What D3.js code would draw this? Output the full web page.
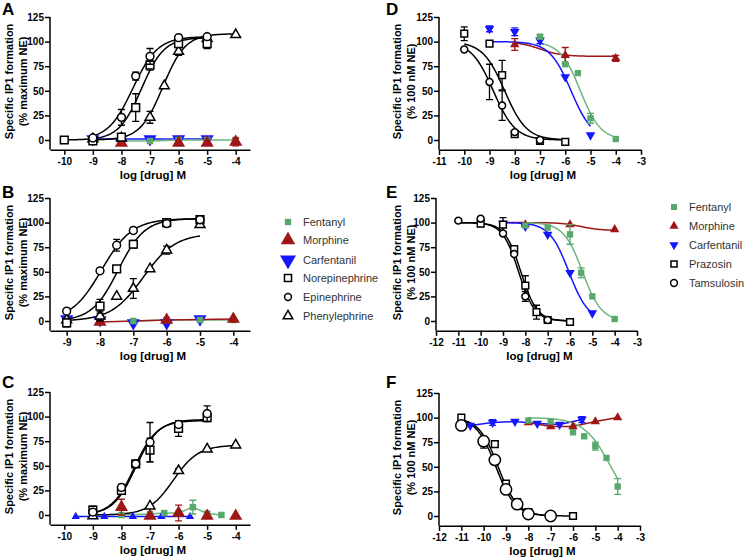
<!DOCTYPE html>
<html><head><meta charset="utf-8">
<script src="https://cdn.jsdelivr.net/npm/d3@7"></script>
<style>body{margin:0;background:#fff}svg{display:block}text{font-family:Arial,"Liberation Sans",sans-serif}</style>
</head><body>
<svg id="c" width="744" height="560"></svg>
<script>
// ---------- DATA ----------
const agonistNames = ["Fentanyl","Morphine","Carfentanil","Norepinephrine","Epinephrine","Phenylephrine"];
const antagonistNames = ["Fentanyl","Morphine","Carfentanil","Prazosin","Tamsulosin"];
const yTicks = [0,25,50,75,100,125];
const xTicksAC = [-10,-9,-8,-7,-6,-5,-4];
const xTicksB = [-9,-8,-7,-6,-5,-4];
const xTicksD = [-11,-10,-9,-8,-7,-6,-5,-4,-3];
const xTicksEF = [-12,-11,-10,-9,-8,-7,-6,-5,-4,-3];
const yTitleLeft = "(% maximum NE)";
const yTitleRight = "(% 100 nM NE)";

// points: [log dose, response, error]
const A_ne = [[-10,0,0],[-9,-1,0],[-8,3,2],[-7.5,33,14],[-7,76,5],[-6,98,3],[-5,98,5]];
const A_epi = [[-9,2,0],[-8,23,8],[-7.5,65,4],[-7,85,8],[-6,104,1],[-5,105,2]];
const A_phe = [[-9,1,0],[-8,2,0],[-7,23,6],[-6.5,55,0],[-6,90,4],[-5,103,2],[-4,107,0]];
const A_carf = [[-9,1,0],[-7,1,0],[-6,1,0],[-5,1,0]];
const A_fent = [[-8,-1,0],[-7,-1,0],[-6,0,0],[-5,0,0],[-4,0,0]];
const A_morph = [[-8,-3,0],[-6,-3,0],[-5,-3,0],[-4,-2,4]];

const B_epi = [[-9,10,0],[-8,51,2],[-7.5,77,6],[-7,92,3],[-6,99,1],[-5,103,1]];
const B_ne = [[-9,-2,4],[-8,15,7],[-7.5,53,0],[-7,78,4],[-6,100,2],[-5,103,2]];
const B_phe = [[-9,1,0],[-8,5,5],[-7.5,25,0],[-7,33,10],[-6.5,53,0],[-6,72,4],[-5,98,0]];
const B_carf = [[-9,2,0],[-8,1,0],[-7,-2,0],[-6,-2,0],[-5,2,0]];
const B_morph = [[-8,-1,0],[-6,1,0],[-4,2,0]];
const B_fent = [[-7,0,0],[-6,1,0],[-5,1,0],[-4,1,0]];

const C_ne = [[-9,5,4],[-8,25,4],[-7.5,52,0],[-7,66,12],[-6,88,8],[-5,99,0]];
const C_epi = [[-9,3,0],[-8,28,3],[-7.5,52,0],[-7,74,20],[-6,92,3],[-5,103,8]];
const C_phe = [[-9,-1,0],[-7,9,0],[-6,45,2],[-5,67,0],[-4,71,0]];
const C_carf = [[-9.6,-1.5,0],[-8.6,-1.5,0],[-7.6,-1.5,0],[-6.6,-1.5,0],[-5.6,-1.5,0]];
const C_fent = [[-8,0,0],[-7,1,0],[-6.5,2,0],[-6,2,0],[-5.5,8,7],[-5,1.5,0],[-4.5,0,0]];
const C_morph = [[-8,8,8],[-7,-1,0],[-6,2,8],[-5,-1,0],[-4,-1,0]];

const D_praz = [[-10,108,7],[-9,98,0],[-8.5,66,15],[-8,6,3],[-7,-1,0],[-6,-2,0]];
const D_tams = [[-10,92,0],[-9,59,18],[-8.5,35,15],[-8,8,0],[-7,0,0]];
const D_carf = [[-9,113,3],[-8,110,4],[-7,101,3],[-6,64,0],[-5,5,0]];
const D_fent = [[-7,105,2],[-6,77,0],[-5.5,68,0],[-5,22,5],[-4,1,0]];
const D_morph = [[-8,97,6],[-6,86,8],[-4,83,3]];

const E_tams = [[-11,102,0],[-10,104,0],[-9,89,0],[-8.5,68,0],[-8,25,5],[-7,1,0]];
const E_praz = [[-10,99,3],[-9,98,7],[-8.5,73,0],[-8,36,10],[-7.5,9,7],[-7,1,2],[-6,-1,0]];
const E_carf = [[-9,99,0],[-8,96,0],[-7,88,0],[-6,49,0],[-5,8,0]];
const E_fent = [[-8,97,0],[-7,95,0],[-6,88,10],[-5.5,49,5],[-5,25,0],[-4,2,0]];
const E_morph = [[-8,98,0],[-6,98,0],[-4,93,0]];

const F_tams = [[-11,92,5],[-10,76,3],[-9.5,57,3],[-9,27,0],[-8.5,12,0],[-8,2,0],[-7,0,0]];
const F_praz = [[-11,100,0],[-10,75,6],[-9.5,73,0],[-9,33,0],[-8.5,14,0],[-8,4,0],[-7,0,0],[-6,0,0]];
const F_carf = [[-10.6,92,0],[-9.6,95,3],[-8.6,96,0],[-7.6,94,0],[-6.6,93,0],[-5.6,98,3]];
const F_morph = [[-8,95,0],[-7,91,2],[-6,91,0],[-5,96,0],[-4,100,0]];
const F_fent = [[-8,97,0],[-7,96,0],[-6,85,0],[-5.5,81,0],[-5,71,4],[-4.5,59,0],[-4,30,8]];

// fitted curves: [top, bottom, logEC50, hill, xStart, xEnd]
const A_ne_fit = [104,0,-7.3,1.1,-10,-5];
const A_epi_fit = [105,0,-7.6,1.0,-9,-5];
const A_phe_fit = [108,0,-6.55,1.1,-9,-4];
const B_epi_fit = [104,0,-7.95,0.95,-9,-5];
const B_ne_fit = [104,0,-7.45,1.1,-9,-5];
const B_phe_fit = [89,0,-6.7,0.9,-9,-5];
const C_ne_fit = [97,0,-7.5,1.1,-9,-5];
const C_epi_fit = [96,0,-7.55,1.1,-9,-5];
const C_phe_fit = [71,0,-6.18,1.0,-9,-4];
const D_praz_fit = [100,0,-8.4,-1,-10,-6];
const D_tams_fit = [100,0,-8.85,-1,-10,-6];
const D_carf_fit = [100,0,-5.77,-1.02,-9,-5];
const D_fent_fit = [100,0,-5.4,-1.08,-7,-4];
const D_morph_fit = [100,85,-7,-1,-8,-4];
const E_praz_fit = [100,0,-8.2,-1.2,-11,-6];
const E_tams_fit = [100,0,-8.3,-1.2,-11,-6];
const E_carf_fit = [100,0,-6.05,-1,-9,-5];
const E_fent_fit = [100,0,-5.44,-1.03,-8,-4];
const E_morph_fit = [100,92,-5.5,-1,-9,-4];
const F_praz_fit = [100,0,-9.35,-1,-11,-6];
const F_tams_fit = [100,0,-9.45,-1,-11,-7];
const F_fent_fit = [100,0,-4.3,-0.72,-8,-4];

// ---------- STYLE ----------
const GREEN = "#58a86c", GREENL = "#6cb680", RED = "#9e1616", BLUE = "#1515ff";
const style = {
  Fentanyl:{color:GREEN,line:GREENL,shape:"square",fill:true},
  Morphine:{color:RED,line:RED,shape:"triUp",fill:true},
  Carfentanil:{color:BLUE,line:BLUE,shape:"triDown",fill:true},
  Norepinephrine:{color:"#000",line:"#000",shape:"square",fill:false},
  Prazosin:{color:"#000",line:"#000",shape:"square",fill:false},
  Epinephrine:{color:"#000",line:"#000",shape:"circle",fill:false},
  Tamsulosin:{color:"#000",line:"#000",shape:"circle",fill:false},
  Phenylephrine:{color:"#000",line:"#000",shape:"triUp",fill:false}
};

const svg = d3.select("#c");

function symPath(shape, area){
  const t = shape==="square"?d3.symbolSquare:shape==="circle"?d3.symbolCircle:d3.symbolTriangle;
  return d3.symbol().type(t).size(area)();
}
function drawMarker(g, name, cx, cy, area, shapeOverride){
  const s = style[name];
  const shape = shapeOverride || s.shape;
  const p = g.append("path").attr("d", symPath(shape, area))
    .attr("transform", `translate(${cx},${cy})` + (shape==="triDown"?" rotate(180)":""));
  if(s.fill) p.attr("fill", s.color).attr("stroke","none");
  else p.attr("fill","#fff").attr("stroke", s.color).attr("stroke-width",1.5);
}

const panels = [
  {id:"A", lx:2, ly:15, xDomain:[-10.5,-3.5], xRange:[50,250], y0:140, ticks:xTicksAC, t2:yTitleLeft, tx:[9,23], size:"big",
   series:[
    {name:"Carfentanil", pts:A_carf, connect:true},
    {name:"Fentanyl", pts:A_fent, connect:true},
    {name:"Morphine", pts:A_morph},
    {name:"Phenylephrine", pts:A_phe, fit:A_phe_fit},
    {name:"Norepinephrine", pts:A_ne, fit:A_ne_fit},
    {name:"Epinephrine", pts:A_epi, fit:A_epi_fit}]},
  {id:"B", lx:2, ly:198, xDomain:[-9.5,-3.5], xRange:[50,250], y0:321, ticks:xTicksB, t2:yTitleLeft, tx:[9,23], size:"big",
   series:[
    {name:"Carfentanil", pts:B_carf},
    {name:"Fentanyl", pts:B_fent, connect:true},
    {name:"Morphine", pts:B_morph, connect:true},
    {name:"Phenylephrine", pts:B_phe, fit:B_phe_fit},
    {name:"Norepinephrine", pts:B_ne, fit:B_ne_fit},
    {name:"Epinephrine", pts:B_epi, fit:B_epi_fit}]},
  {id:"C", lx:2, ly:388, xDomain:[-10.5,-3.5], xRange:[50,250], y0:515, ticks:xTicksAC, t2:yTitleLeft, tx:[9,23], size:"big",
   series:[
    {name:"Carfentanil", pts:C_carf, connect:true, shape:"triUp", area:30},
    {name:"Fentanyl", pts:C_fent, connect:true},
    {name:"Morphine", pts:C_morph},
    {name:"Phenylephrine", pts:C_phe, fit:C_phe_fit},
    {name:"Norepinephrine", pts:C_ne, fit:C_ne_fit},
    {name:"Epinephrine", pts:C_epi, fit:C_epi_fit}]},
  {id:"D", lx:386, ly:15, xDomain:[-11,-3], xRange:[439,641], y0:140, ticks:xTicksD, t2:yTitleRight, tx:[397,411], size:"small",
   series:[
    {name:"Morphine", pts:D_morph, fit:D_morph_fit},
    {name:"Carfentanil", pts:D_carf, fit:D_carf_fit},
    {name:"Fentanyl", pts:D_fent, fit:D_fent_fit},
    {name:"Prazosin", pts:D_praz, fit:D_praz_fit},
    {name:"Tamsulosin", pts:D_tams, fit:D_tams_fit}]},
  {id:"E", lx:386, ly:198, xDomain:[-12,-3], xRange:[436,637], y0:321, ticks:xTicksEF, t2:yTitleRight, tx:[397,411], size:"small",
   series:[
    {name:"Morphine", pts:E_morph, fit:E_morph_fit},
    {name:"Carfentanil", pts:E_carf, fit:E_carf_fit},
    {name:"Fentanyl", pts:E_fent, fit:E_fent_fit},
    {name:"Prazosin", pts:E_praz, fit:E_praz_fit},
    {name:"Tamsulosin", pts:E_tams, fit:E_tams_fit}]},
  {id:"F", lx:386, ly:388, xDomain:[-12,-3], xRange:[439,640], y0:516, ticks:xTicksEF, t2:yTitleRight, tx:[397,411], size:"small",
   series:[
    {name:"Carfentanil", pts:F_carf, connect:true},
    {name:"Morphine", pts:F_morph, connect:true},
    {name:"Fentanyl", pts:F_fent, fit:F_fent_fit},
    {name:"Prazosin", pts:F_praz, fit:F_praz_fit},
    {name:"Tamsulosin", pts:F_tams, fit:F_tams_fit, area:100}]}
];

const areas = {
  big:{square:60, circle:48, triUpOpen:42, fsquare:42, triUp:75, triDown:75},
  small:{square:45, circle:38, triUpOpen:40, fsquare:40, triUp:38, triDown:40}
};

function logistic(f, xv){
  const [top,bottom,ec,h] = f;
  return bottom + (top-bottom)/(1+Math.pow(10,(ec-xv)*h));
}

panels.forEach(p=>{
  const x = d3.scaleLinear().domain(p.xDomain).range(p.xRange);
  const y = d3.scaleLinear().domain([0,125]).range([p.y0, p.y0-123]);
  const g = svg.append("g");
  const yBottom = y(-10);

  // axes
  const xa = g.append("g").attr("transform",`translate(0,${yBottom})`)
    .call(d3.axisBottom(x).tickValues(p.ticks).tickSize(5).tickSizeOuter(0).tickPadding(3).tickFormat(d=>String(d)));
  const ya = g.append("g").attr("transform",`translate(${p.xRange[0]},0)`)
    .call(d3.axisLeft(y).tickValues(yTicks).tickSize(5).tickSizeOuter(0).tickPadding(1).tickFormat(d=>String(d)));
  ya.select(".domain").attr("d", `M0,${yBottom}V${y(125)}`);
  [xa,ya].forEach(a=>{
    a.selectAll("path,line").attr("stroke","#000").attr("stroke-width",1.5);
    a.selectAll("text").attr("font-size",10).attr("font-weight","bold").attr("fill","#000")
      .attr("font-family","Arial, 'Liberation Sans', sans-serif");
  });

  // titles
  const yc = (y(125)+yBottom)/2 - 2;
  g.append("text").attr("transform",`translate(${p.tx[0]},${yc}) rotate(-90)`).attr("text-anchor","middle")
    .attr("dominant-baseline","central").attr("font-size",11).attr("font-weight","bold").text("Specific IP1 formation");
  g.append("text").attr("transform",`translate(${p.tx[1]},${yc}) rotate(-90)`).attr("text-anchor","middle")
    .attr("dominant-baseline","central").attr("font-size",11).attr("font-weight","bold").text(p.t2);
  g.append("text").attr("x",(p.xRange[0]+p.xRange[1])/2+3).attr("y",yBottom+29).attr("text-anchor","middle")
    .attr("font-size",11.5).attr("font-weight","bold").text("log [drug] M");
  g.append("text").attr("x",p.lx).attr("y",p.ly).attr("font-size",17).attr("font-weight","bold").text(p.id);

  const ar = areas[p.size];
  // lines / curves
  p.series.forEach(s=>{
    const st = style[s.name];
    if(s.fit){
      const xs = d3.range(0,101).map(i=>s.fit[4]+(s.fit[5]-s.fit[4])*i/100);
      g.append("path").attr("d", d3.line().x(v=>x(v)).y(v=>y(logistic(s.fit,v)))(xs))
        .attr("fill","none").attr("stroke",st.line).attr("stroke-width",1.5);
    }
    if(s.connect){
      g.append("path").attr("d", d3.line().x(d=>x(d[0])).y(d=>y(d[1]))(s.pts))
        .attr("fill","none").attr("stroke",st.line).attr("stroke-width",1.5);
    }
  });
  // error bars + markers
  p.series.forEach(s=>{
    const st = style[s.name];
    s.pts.forEach(d=>{
      if(d[2]>0){
        const cx = x(d[0]);
        g.append("path").attr("d",`M${cx},${y(d[1]-d[2])}V${y(d[1]+d[2])}M${cx-3.5},${y(d[1]+d[2])}H${cx+3.5}M${cx-3.5},${y(d[1]-d[2])}H${cx+3.5}`)
          .attr("stroke",st.color).attr("stroke-width",1.3).attr("fill","none");
      }
    });
    const shape = s.shape || st.shape;
    let area = s.area;
    if(!area){
      if(shape==="square") area = st.fill?ar.fsquare:ar.square;
      else if(shape==="circle") area = ar.circle;
      else if(shape==="triUp") area = st.fill?ar.triUp:ar.triUpOpen;
      else area = ar.triDown;
    }
    s.pts.forEach(d=>drawMarker(g, s.name, x(d[0]), y(d[1]), area, s.shape));
  });
});

// legends
const legL = svg.append("g");
const legLy = [222,240,260,278,297,316];
const legLarea = [40,90,110,50,36,40];
agonistNames.forEach((n,i)=>{
  drawMarker(legL, n, 288, legLy[i], legLarea[i]);
  legL.append("text").attr("x",303).attr("y",legLy[i]).attr("dominant-baseline","central")
    .attr("font-size",11).attr("fill","#333").text(n);
});
const legR = svg.append("g");
const legRy = [207,226,245,264,283];
antagonistNames.forEach((n,i)=>{
  drawMarker(legR, n, 674, legRy[i], 36);
  legR.append("text").attr("x",689).attr("y",legRy[i]).attr("dominant-baseline","central")
    .attr("font-size",11).attr("fill","#333").text(n);
});
</script></body></html>
